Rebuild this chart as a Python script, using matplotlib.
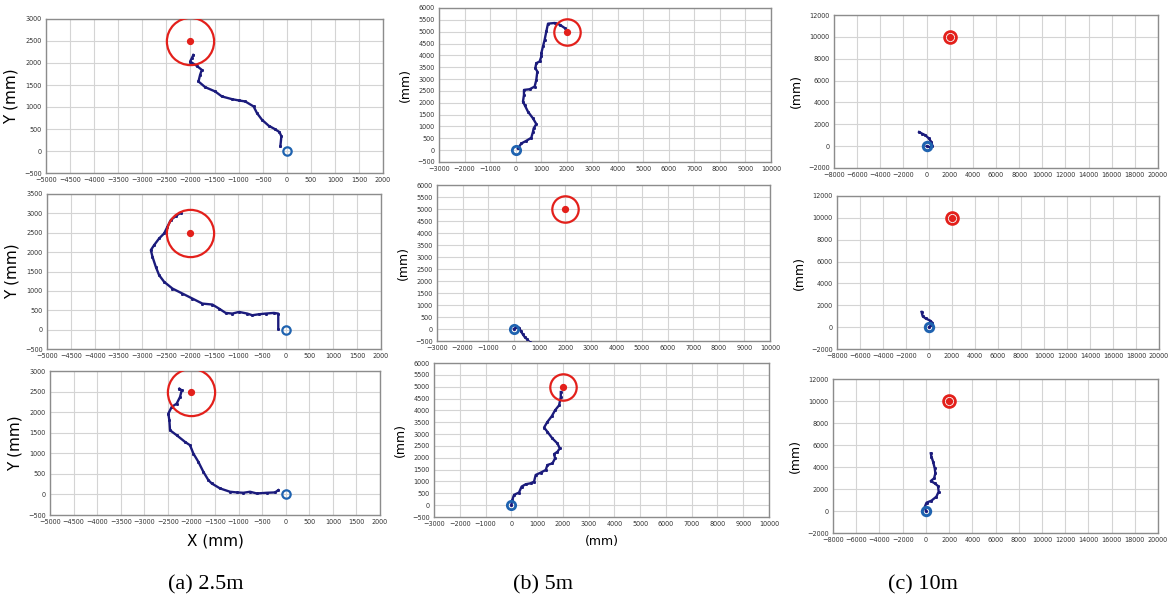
import matplotlib
matplotlib.use("Agg")
import matplotlib.pyplot as plt
import numpy as np

# trajectories (mm)
a1_x = [-132, -111, -150, -250, -375, -514, -618, -688, -861, -1000, -1139, -1347, -1486, -1694, -1833, -1799, -1764, -1868, -2007, -1972, -1938]
a1_y = [106, 333, 430, 500, 575, 710, 862, 1013, 1126, 1150, 1179, 1240, 1353, 1451, 1580, 1731, 1844, 1935, 2033, 2109, 2184]

a2_x = [-153, -153, -244, -418, -558, -697, -802, -976, -1116, -1255, -1395, -1534, -1743, -1953, -2162, -2371, -2545, -2650, -2720, -2789, -2824, -2755, -2650, -2545, -2476, -2406, -2301, -2197]
a2_y = [26, 414, 431, 414, 397, 371, 414, 457, 414, 431, 543, 647, 672, 802, 931, 1060, 1233, 1405, 1621, 1879, 2052, 2181, 2353, 2483, 2655, 2828, 2931, 3017]

a3_x = [-156, -226, -403, -615, -757, -898, -1040, -1181, -1393, -1570, -1641, -1747, -1853, -1959, -2030, -2136, -2313, -2454, -2468, -2490, -2419, -2313, -2242, -2206, -2256]
a3_y = [105, 49, 40, 24, 65, 40, 49, 65, 146, 267, 348, 550, 792, 994, 1196, 1277, 1439, 1560, 1803, 1964, 2126, 2207, 2369, 2530, 2571]

b1_x = [92, 222, 418, 614, 680, 706, 810, 680, 484, 353, 288, 327, 327, 549, 745, 810, 850, 771, 810, 941, 1007, 1007, 1072, 1137, 1203, 1268, 1529, 1725, 1922]
b1_y = [71, 282, 395, 523, 777, 918, 1102, 1342, 1624, 1907, 2048, 2331, 2542, 2571, 2684, 2966, 3319, 3460, 3672, 3743, 3955, 4096, 4379, 4661, 5014, 5339, 5367, 5297, 5155]

b2_x = [0, 100, 200, 280, 350, 420, 520, 620]
b2_y = [0, 80, 60, -100, -220, -330, -430, -560]

b3_x = [0, 39, 104, 298, 401, 557, 752, 882, 946, 1141, 1336, 1401, 1595, 1699, 1660, 1790, 1881, 1790, 1595, 1401, 1271, 1401, 1569, 1699, 1855, 1920, 1920]
b3_y = [0, 224, 434, 532, 784, 882, 924, 994, 1275, 1373, 1485, 1695, 1765, 1975, 2157, 2255, 2395, 2605, 2815, 3095, 3277, 3515, 3754, 4006, 4216, 4566, 4776]

c1_x = [0, 300, 500, 400, 200, -100, -400, -650]
c1_y = [0, -100, 50, 400, 700, 1000, 1150, 1300]

c2_x = [0, 200, 300, 100, -300, -550, -650]
c2_y = [0, 200, 400, 600, 800, 1000, 1400]

c3_x = [0, -85, 57, 481, 905, 1103, 1046, 764, 424, 707, 820, 764, 622, 481, 424]
c3_y = [0, 394, 758, 939, 1303, 1758, 2273, 2515, 2727, 2970, 3424, 3879, 4485, 4939, 5242]

targets = {"a": (-2000, 2500), "b": (2000, 5000), "c": (2000, 10000)}
captions = ["(a) 2.5m", "(b) 5m", "(c) 10m"]

W, H = 1173, 606
NAVY = "#1b1b7c"
RED = "#e3201b"
BLUE = "#1f63b0"


def px_axes(fig, left, right, top, bottom):
    return fig.add_axes([left / W, 1 - bottom / H, (right - left) / W, (bottom - top) / H])


def draw_panel(ax, xs, ys, target, xlim, xstep, ylim, ystep, ring, ring_lw, ylabel, ylabel_size, start_lw=1.6):
    ax.set_xlim(*xlim)
    ax.set_ylim(*ylim)
    ax.set_xticks(np.arange(xlim[0], xlim[1] + 1, xstep))
    ax.set_yticks(np.arange(ylim[0], ylim[1] + 1, ystep))
    ax.grid(True, color="#d4d4d4", lw=0.8)
    ax.set_axisbelow(True)
    ax.tick_params(length=0, labelsize=4.7, colors="#333333", pad=3)
    for s in ax.spines.values():
        s.set_color("#8c8c8c")
        s.set_linewidth(1.0)
    ax.plot(xs, ys, color=NAVY, lw=1.7, marker="s", ms=1.1, clip_on=True, zorder=3)
    tx, ty = target
    ax.plot([tx], [ty], "o", ms=ring, mfc="none", mec=RED, mew=ring_lw, zorder=4)
    ax.plot([tx], [ty], "o", ms=4.2, color=RED, zorder=5)
    ax.plot([0], [0], "o", ms=6, mfc="none", mec=BLUE, mew=start_lw, zorder=4)
    ax.set_ylabel(ylabel, fontsize=ylabel_size, labelpad=4)


def main():
    fig = plt.figure(figsize=(W / 100, H / 100), dpi=100)

    # column (a)
    a_axes = [px_axes(fig, 46, 383, 19, 173), px_axes(fig, 47, 381, 194, 349), px_axes(fig, 50, 380, 371, 515)]
    a_ylims = [(-500, 3000), (-500, 3500), (-500, 3000)]
    for ax, xs, ys, yl in zip(a_axes, [a1_x, a2_x, a3_x], [a1_y, a2_y, a3_y], a_ylims):
        draw_panel(ax, xs, ys, targets["a"], (-5000, 2000), 500, yl, 500, 34, 1.6, "Y (mm)", 11)
    a_axes[2].set_xlabel("X (mm)", fontsize=11, labelpad=6)

    # column (b)
    b_axes = [px_axes(fig, 439, 771, 8, 162), px_axes(fig, 437, 770, 185, 341), px_axes(fig, 434, 769, 363, 517)]
    for ax, xs, ys in zip(b_axes, [b1_x, b2_x, b3_x], [b1_y, b2_y, b3_y]):
        draw_panel(ax, xs, ys, targets["b"], (-3000, 10000), 1000, (-500, 6000), 500, 19, 1.6, "(mm)", 9, 2.0)
    b_axes[2].set_xlabel("(mm)", fontsize=9, labelpad=6)

    # column (c)
    c_axes = [px_axes(fig, 834, 1158, 15, 168), px_axes(fig, 837, 1159, 196, 349), px_axes(fig, 833, 1158, 379, 533)]
    for ax, xs, ys in zip(c_axes, [c1_x, c2_x, c3_x], [c1_y, c2_y, c3_y]):
        draw_panel(ax, xs, ys, targets["c"], (-8000, 20000), 2000, (-2000, 12000), 2000, 8.5, 2.0, "(mm)", 9, 2.2)

    for cx, text in zip([206, 543, 923], captions):
        fig.text(cx / W, 1 - 585 / H, text, ha="center", va="center",
                 fontsize=16, family=["Liberation Serif", "DejaVu Serif"])

    fig.savefig("out.png", dpi=100)
    plt.close(fig)


if __name__ == "__main__":
    main()
